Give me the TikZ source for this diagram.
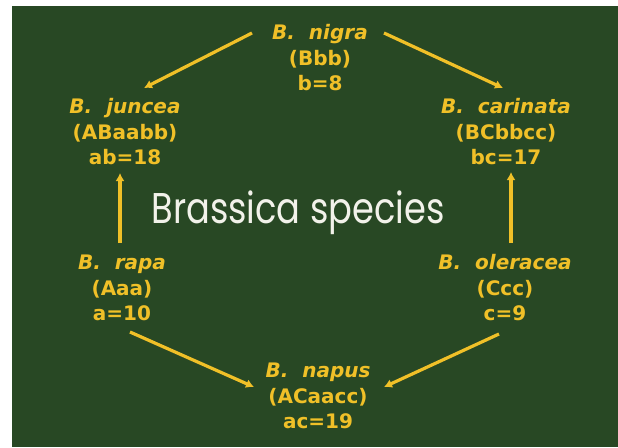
\documentclass[tikz,border=0pt]{standalone}
\usepackage{fontspec}
\usepackage{graphicx}
\setmainfont{DejaVu Sans}
\newfontfamily\boardfont{Poppins}
\usepackage{tikz}
\usetikzlibrary{positioning}
\usetikzlibrary{arrows.meta}

\definecolor{board}{RGB}{40,72,36}
\definecolor{chalkyellow}{RGB}{240,192,40}
\definecolor{chalkwhite}{RGB}{242,242,234}

\begin{document}
\begin{tikzpicture}[
  x=1pt, y=-1pt,
  every node/.style={font=\bfseries\fontsize{20}{25.5}\selectfont},
  species/.style={align=center, text=chalkyellow, inner sep=2pt},
  arr/.style={->, line width=3.2pt, draw=chalkyellow},
  >={Latex[length=8pt,width=9pt]}
]
\useasboundingbox (0,0) rectangle (618,447);
\fill[white] (0,0) rectangle (618,447);
\fill[board] (12,6) rectangle (618,447);

% species nodes
\node[species] (nigra) at (320,58) {\textit{B.\ \ nigra}\\(Bbb)\\b=8};
\node[species] (juncea) at (125,132) {\textit{B.\ \ juncea}\\(ABaabb)\\ab=18};
\node[species] (carinata) at (506,132) {\textit{B.\ \ carinata}\\(BCbbcc)\\bc=17};
\node[species] (rapa) at (122,288) {\textit{B.\ \ rapa}\\(Aaa)\\a=10};
\node[species] (oleracea) at (505,288) {\textit{B.\ \ oleracea}\\(Ccc)\\c=9};
\node[species] (napus) at (318,396) {\textit{B.\ \ napus}\\(ACaacc)\\ac=19};

\node[anchor=base, text=chalkwhite, font=\boardfont\fontsize{43}{43}\selectfont]
  (title) at (298,223) {\scalebox{0.82}[1]{Brassica species}};

% crosses
\draw[arr] ([shift={(-68,-25)}]nigra.center) -- ([shift={(19,-44)}]juncea.center);
\draw[arr] ([shift={(64,-25)}]nigra.center) -- ([shift={(-3,-44)}]carinata.center);
\draw[arr] ([shift={(-2,-45)}]rapa.center) -- ([shift={(-5,41)}]juncea.center);
\draw[arr] ([shift={(6,-45)}]oleracea.center) -- ([shift={(5,40)}]carinata.center);
\draw[arr] ([shift={(8,44)}]rapa.center) -- ([shift={(-64,-9)}]napus.center);
\draw[arr] ([shift={(-6,46)}]oleracea.center) -- ([shift={(66,-9)}]napus.center);
\end{tikzpicture}
\end{document}
